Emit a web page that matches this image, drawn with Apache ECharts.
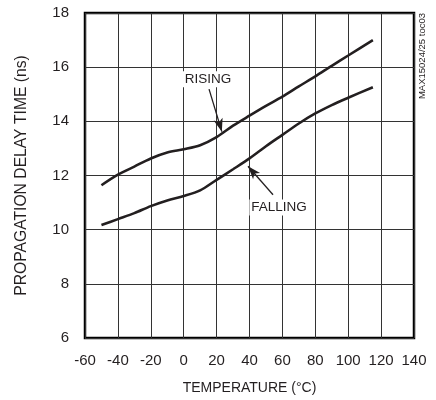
<!DOCTYPE html>
<html><head><meta charset="utf-8">
<script src="https://cdn.jsdelivr.net/npm/echarts@6/dist/echarts.min.js"></script>
<style>html,body{margin:0;padding:0;background:#fff}#c{width:436px;height:400px}</style>
</head><body><div id="c"></div>
<script>
const temps = [-50,-40,-30,-20,-10,0,10,20,30,40,50,60,70,80,90,100,115];
const rising = [11.64,12.03,12.33,12.63,12.85,12.97,13.12,13.42,13.84,14.21,14.57,14.91,15.29,15.66,16.05,16.43,17.0];
const falling = [10.17,10.39,10.61,10.87,11.08,11.24,11.45,11.84,12.23,12.63,13.08,13.5,13.92,14.29,14.6,14.87,15.26];
const xTicks = [-60,-40,-20,0,20,40,60,80,100,120,140];
const yTicks = [6,8,10,12,14,16,18];
const labelRising = {text:'RISING', at:[14.8,15.55], arrowFrom:[15.4,15.19], arrowTo:[23.2,13.62]};
const labelFalling = {text:'FALLING', at:[58,10.82], arrowFrom:[54.3,11.29], arrowTo:[39.1,12.34]};
const FONT = "'Liberation Sans Narrow','Arial Narrow','Liberation Sans',sans-serif";

const pair = (xs, ys) => xs.map((x,i)=>[x, ys[i]]);
const chart = echarts.init(document.getElementById('c'), null, {renderer:'canvas'});
const lineStyle = {color:'#231f20', width:2.6};
chart.setOption({
  animation:false,
  backgroundColor:'#fff',
  grid:{left:85, right:22, top:13, bottom:61, show:true, borderColor:'#000', borderWidth:2.5, backgroundColor:'transparent'},
  xAxis:{type:'value', min:xTicks[0], max:xTicks[xTicks.length-1], interval:20,
    name:'TEMPERATURE (°C)', nameLocation:'middle', nameGap:43,
    nameTextStyle:{fontFamily:FONT, fontSize:14, color:'#231f20'},
    axisLine:{show:false}, axisTick:{show:false},
    axisLabel:{fontFamily:FONT, fontSize:15, color:'#231f20', margin:15},
    splitLine:{show:true, lineStyle:{color:'#333', width:1}}},
  yAxis:{type:'value', min:yTicks[0], max:yTicks[yTicks.length-1], interval:2,
    name:'PROPAGATION DELAY TIME (ns)', nameLocation:'middle', nameGap:55,
    nameTextStyle:{fontFamily:FONT, fontSize:15.7, color:'#231f20'},
    axisLine:{show:false}, axisTick:{show:false},
    axisLabel:{fontFamily:FONT, fontSize:15, color:'#231f20', margin:16},
    splitLine:{show:true, lineStyle:{color:'#333', width:1}}},
  series:[
    {type:'line', name:'RISING', data:pair(temps, rising), smooth:0.3, showSymbol:false, lineStyle, z:5,
      markLine:{silent:true, symbolSize:[7,13], lineStyle:{color:'#231f20', width:1.3, type:'solid'}, label:{show:false},
        data:[[{coord:labelRising.arrowFrom, symbol:'none'},{coord:labelRising.arrowTo, symbol:'arrow'}],
              [{coord:labelFalling.arrowFrom, symbol:'none'},{coord:labelFalling.arrowTo, symbol:'arrow'}]]},
      markPoint:{silent:true, symbol:'rect', symbolSize:0,
        label:{show:true, position:'inside', fontFamily:FONT, fontSize:13.5, color:'#231f20', backgroundColor:'#fff', padding:[1,2], formatter:p=>p.name},
        data:[{name:labelRising.text, coord:labelRising.at},{name:labelFalling.text, coord:labelFalling.at}]}},
    {type:'line', name:'FALLING', data:pair(temps, falling), smooth:0.3, showSymbol:false, lineStyle, z:5}
  ],
  graphic:[{type:'text', right:9, top:13, rotation:Math.PI/2, style:{text:'MAX15024/25 toc03', font:"9.5px "+FONT, fill:'#231f20'}}]
});
</script></body></html>
